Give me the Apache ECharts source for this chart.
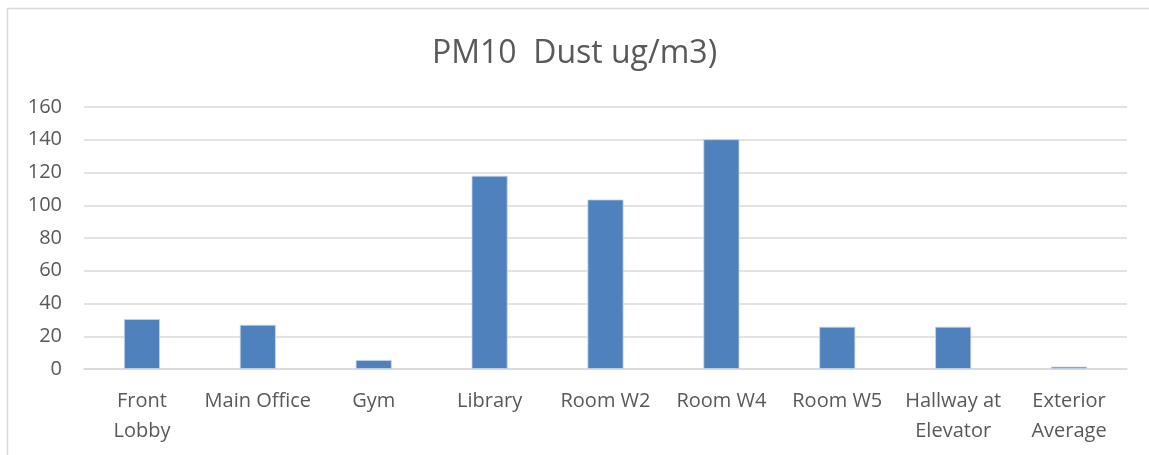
<!DOCTYPE html>
<html>
<head>
<meta charset="utf-8">
<script src="https://cdn.jsdelivr.net/npm/echarts@6/dist/echarts.min.js"></script>
<style>
html,body{margin:0;padding:0;background:#fff;}
#c{width:1149px;height:455px;}
</style>
</head>
<body>
<div id="c"></div>
<script>
const titleText = 'PM10  Dust ug/m3)';
const categories = ['Front\nLobby', 'Main Office', 'Gym', 'Library', 'Room W2', 'Room W4', 'Room W5', 'Hallway at\nElevator', 'Exterior\nAverage'];
const pm10Values = [30.5, 27, 5.5, 118, 103.5, 140.3, 25.8, 25.8, 1.4];
const yTicks = { min: 0, max: 160, interval: 20 };

const chart = echarts.init(document.getElementById('c'), null, { renderer: 'canvas' });
chart.setOption({
  animation: false,
  backgroundColor: '#ffffff',
  graphic: [{
    type: 'rect',
    shape: { x: 7.5, y: 8.5, width: 1200, height: 500 },
    style: { fill: 'none', stroke: '#d9d9d9', lineWidth: 1.5 },
    silent: true
  }],
  title: {
    text: titleText,
    left: 'center',
    top: 33,
    textStyle: { fontFamily: 'Open Sans', fontSize: 32, fontWeight: 'normal', color: '#595959' }
  },
  grid: { left: 84, right: 22, top: 107, bottom: 86, containLabel: false },
  xAxis: {
    type: 'category',
    data: categories,
    axisLine: { show: true, lineStyle: { color: '#d9d9d9', width: 1.5 } },
    axisTick: { show: false },
    axisLabel: {
      interval: 0,
      margin: 17,
      fontFamily: 'Open Sans',
      fontSize: 20,
      lineHeight: 30,
      color: '#595959'
    }
  },
  yAxis: {
    type: 'value',
    min: yTicks.min,
    max: yTicks.max,
    interval: yTicks.interval,
    axisLine: { show: false },
    axisTick: { show: false },
    splitLine: { lineStyle: { color: '#d9d9d9', width: 1.5 } },
    axisLabel: {
      margin: 22,
      fontFamily: 'Open Sans',
      fontSize: 20,
      color: '#595959'
    }
  },
  series: [{
    type: 'bar',
    data: pm10Values,
    barWidth: 36,
    itemStyle: { color: '#4f81bd', borderColor: '#c5d5ea', borderWidth: 0.8 }
  }]
});
</script>
</body>
</html>
